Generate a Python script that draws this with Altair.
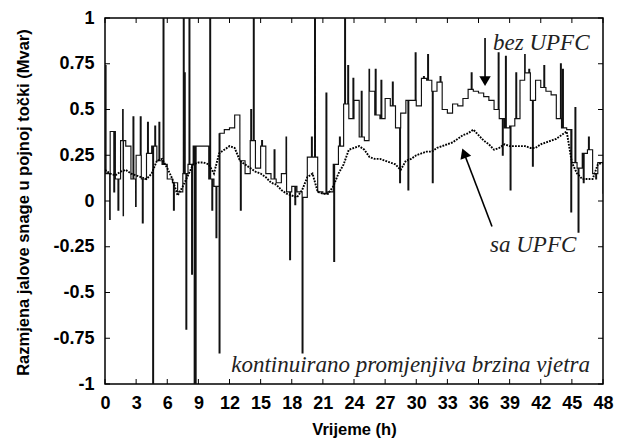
import altair as alt
import pandas as pd

# time grid (half-hour samples)
hours = [i * 0.5 for i in range(97)]

# "bez UPFC" base level (step), every 0.5 h
bez_base = [
    0.15, 0.38, 0.12, 0.33, 0.30, 0.12, 0.25, 0.12, 0.26, 0.30,
    0.22, 0.20, 0.12, 0.10, 0.05, 0.15, 0.20, 0.30, 0.30, 0.30,
    0.12, 0.08, 0.37, 0.39, 0.40, 0.47, 0.22, 0.15, 0.33, 0.18,
    0.30, 0.15, 0.12, 0.10, 0.15, 0.05, 0.08, 0.05, 0.02, 0.24,
    0.24, 0.05, 0.04, 0.05, 0.20, 0.30, 0.53, 0.45, 0.55, 0.35,
    0.33, 0.60, 0.47, 0.45, 0.56, 0.52, 0.40, 0.48, 0.55, 0.55,
    0.52, 0.67, 0.66, 0.60, 0.65, 0.50, 0.48, 0.53, 0.52, 0.56,
    0.61, 0.60, 0.59, 0.57, 0.55, 0.50, 0.45, 0.40, 0.41, 0.45,
    0.66, 0.70, 0.55, 0.66, 0.62, 0.60, 0.58, 0.45, 0.40, 0.39,
    0.21, 0.18, 0.26, 0.28, 0.15, 0.21, 0.04,
]

# short excursions of the "bez UPFC" curve
spike_t = [0.02, 0.45, 0.85, 1.25, 1.7, 1.75, 2.7, 2.95, 3.4, 3.6,
           4.1, 4.6, 4.8, 5.2, 5.6, 6.6, 7.55, 7.65, 7.8, 8.1,
           8.35, 8.6, 8.7, 10.1, 10.3, 10.7, 11.0, 13.05, 14.05, 14.3,
           15.1, 16.3, 17.45, 17.8, 18.3, 19.0, 19.9, 20.2, 21.3, 22.05,
           22.6, 23.1, 23.4, 23.9, 24.7, 25.45, 26.05, 26.6, 27.7, 28.4,
           29.2, 29.9, 30.7, 31.1, 31.55, 32.3, 35.3, 37.9, 38.3, 38.6,
           39.05, 39.6, 40.45, 40.85, 41.2, 42.3, 43.9, 44.1, 44.9, 45.3,
           45.6, 46.1, 46.6, 47.3]
spike_v = [0.74, -0.10, 0.05, -0.05, 0.50, -0.08, 0.46, -0.03, 0.46, -0.12,
           0.43, -1.0, 0.41, 0.43, 1.0, -0.05, 1.0, 0.70, -0.70, 1.0,
           -0.40, -1.0, -1.0, 1.0, -0.05, -0.20, -0.83, -0.05, 0.50, 1.0,
           0.33, 0.28, 0.35, -0.32, -0.02, -0.83, 0.35, 1.0, 0.59, -0.33,
           0.35, 1.0, 0.74, 0.67, 0.60, 0.72, 0.72, 0.66, 0.65, 0.10,
           0.06, 0.81, 0.68, 0.80, 0.10, 0.68, 0.70, 0.81, 0.25, 0.79,
           0.06, 0.70, 0.80, 0.72, 0.19, 0.74, 0.75, 0.72, -0.06, 0.51,
           -0.17, 0.10, 0.35, 0.12]

# "sa UPFC" curve, every 0.5 h
sa_upfc = [
    0.17, 0.15, 0.14, 0.16, 0.17, 0.15, 0.14, 0.13, 0.12, 0.15,
    0.22, 0.23, 0.18, 0.12, 0.03, 0.08, 0.14, 0.20, 0.21, 0.21,
    0.20, 0.15, 0.26, 0.28, 0.30, 0.29, 0.22, 0.20, 0.18, 0.16,
    0.15, 0.13, 0.10, 0.09, 0.06, 0.04, 0.03, 0.02, 0.06, 0.13,
    0.15, 0.05, 0.04, 0.04, 0.08, 0.15, 0.20, 0.28, 0.29, 0.30,
    0.28, 0.24, 0.23, 0.23, 0.22, 0.21, 0.20, 0.17, 0.22, 0.23,
    0.25, 0.26, 0.27, 0.27, 0.29, 0.30, 0.31, 0.32, 0.34, 0.36,
    0.37, 0.39, 0.36, 0.33, 0.31, 0.28, 0.29, 0.31, 0.30, 0.30,
    0.30, 0.30, 0.29, 0.29, 0.31, 0.32, 0.33, 0.34, 0.36, 0.38,
    0.21, 0.15, 0.12, 0.12, 0.12, 0.20, 0.21,
]

x_ticks = [0, 3, 6, 9, 12, 15, 18, 21, 24, 27, 30, 33, 36, 39, 42, 45, 48]
y_ticks = [-1, -0.75, -0.5, -0.25, 0, 0.25, 0.5, 0.75, 1]

W, H = 498, 366
SPIKE_W = 0.08

rows = [(t, v) for t, v in zip(hours, bez_base)]
for ts, vs in zip(spike_t, spike_v):
    back = bez_base[min(int((ts + SPIKE_W) // 0.5), len(bez_base) - 1)]
    rows.append((ts, vs))
    rows.append((ts + SPIKE_W, back))
rows.sort(key=lambda r: r[0])
bez_df = pd.DataFrame(rows, columns=["t", "v"])
sa_df = pd.DataFrame({"t": hours, "v": sa_upfc})

xs = alt.Scale(domain=[0, 48], nice=False, zero=False)
ys = alt.Scale(domain=[-1, 1], nice=False, zero=False)

lab = dict(labelFont="Liberation Sans", labelFontWeight="bold", labelFontSize=18,
           labelColor="black", titleFont="Liberation Sans", titleFontWeight="bold",
           titleFontSize=16.5, titleColor="black", ticks=False, tickSize=0,
           domain=False, grid=False, labelFlush=False, labelOverlap=False)

X_AXIS = alt.Axis(values=x_ticks, title="Vrijeme (h)", labelPadding=10,
                  titleX=W / 2, titleY=50, titleBaseline="alphabetic",
                  titleAlign="center", **lab)
Y_AXIS = alt.Axis(values=y_ticks, title="Razmjena jalove snage u pojnoj točki (Mvar)",
                  labelExpr="'' + datum.value", labelPadding=11,
                  titleX=-82, titleY=184, titleAngle=270,
                  titleBaseline="middle", titleAlign="center", **lab)


def X(field="t"):
    return alt.X(f"{field}:Q", scale=xs, axis=X_AXIS)


def Y(field="v"):
    return alt.Y(f"{field}:Q", scale=ys, axis=Y_AXIS)


bez = alt.Chart(bez_df).mark_line(interpolate="step-after", color="#111111",
                                   strokeWidth=1.15, clip=True).encode(x=X(), y=Y())

sa = alt.Chart(sa_df).mark_line(color="black", strokeWidth=1.9,
                                 strokeDash=[1.8, 1.2], clip=True).encode(x=X(), y=Y())

# inward tick marks on all four sides
xt = pd.DataFrame({"t": x_ticks})
yt = pd.DataFrame({"v": y_ticks})
tick_style = dict(color="black", strokeWidth=1)
top_t = alt.Chart(xt).mark_rule(**tick_style).encode(
    x=X(), y=alt.value(0), y2=alt.value(5))
bot_t = alt.Chart(xt).mark_rule(**tick_style).encode(
    x=X(), y=alt.value(H - 5), y2=alt.value(H))
left_t = alt.Chart(yt).mark_rule(**tick_style).encode(
    y=Y(), x=alt.value(0), x2=alt.value(5))
right_t = alt.Chart(yt).mark_rule(**tick_style).encode(
    y=Y(), x=alt.value(W - 5), x2=alt.value(W))

# annotations
arrow_lines = pd.DataFrame({
    "t": [36.63, 37.30], "v": [0.891, -0.139],
    "t2": [36.63, 34.75], "v2": [0.665, 0.24],
})
arrows = alt.Chart(arrow_lines).mark_rule(color="black", strokeWidth=1.6).encode(
    x=X(), y=Y(), x2="t2:Q", y2="v2:Q")

heads_df = pd.DataFrame({"t": [36.63, 34.61], "v": [0.655, 0.262], "ang": [180, 339.2]})
heads = alt.Chart(heads_df).mark_point(shape="triangle-up", filled=True, color="black",
                                       opacity=1, size=130).encode(
    x=X(), y=Y(), angle=alt.Angle("ang:Q", scale=None))

labels_df = pd.DataFrame({
    "t": [37.40, 37.11, 46.75],
    "v": [0.826, -0.281, -0.935],
    "txt": ["bez UPFC", "sa UPFC", "kontinuirano promjenjiva brzina vjetra"],
    "al": ["left", "left", "right"],
})
txt_common = dict(font="Liberation Serif", fontStyle="italic", fontSize=23,
                  color="#222222", baseline="alphabetic")
txt_left = alt.Chart(labels_df[labels_df["al"] == "left"]).mark_text(
    align="left", **txt_common).encode(x=X(), y=Y(), text="txt:N")
txt_right = alt.Chart(labels_df[labels_df["al"] == "right"]).mark_text(
    align="right", **txt_common).encode(x=X(), y=Y(), text="txt:N")

chart = alt.layer(bez, sa, top_t, bot_t, left_t, right_t, arrows, heads,
                  txt_left, txt_right).properties(
    width=W, height=H,
    autosize=alt.AutoSizeParams(type="none"),
    padding={"left": 105, "top": 18, "right": 17, "bottom": 55},
    background="white",
).configure_view(stroke="black", strokeWidth=1.5)

chart.save("out.html", embed_options={"renderer": "svg", "actions": False})
